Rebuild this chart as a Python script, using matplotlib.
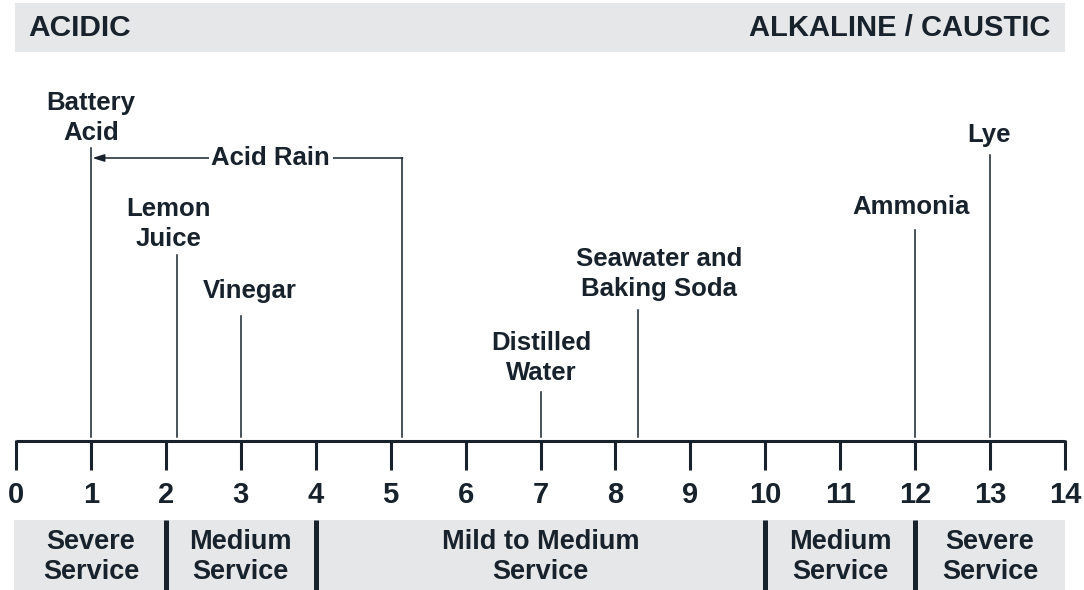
import matplotlib
matplotlib.use("Agg")
import matplotlib.pyplot as plt

# pH scale data
ph_ticks = list(range(0, 15))
substances = ["Battery\nAcid", "Lemon\nJuice", "Vinegar", "Distilled\nWater",
              "Seawater and\nBaking Soda", "Ammonia", "Lye"]
substance_ph = [1, 2.15, 3, 7, 8.3, 12, 13]
acid_rain_range = [1, 5.15]

# service bands
band_edges = [0, 2, 4, 10, 12, 14]
band_labels = ["Severe\nService", "Medium\nService", "Mild to Medium\nService",
               "Medium\nService", "Severe\nService"]

# layout (pixel rows, figure is drawn in pixel y coordinates)
line_tops = [148, 255, 316, 392, 310, 230, 155]
label_y = [118, 224, 291, 358, 274, 207, 135]
label_dx = [0, -0.11, 0.12, 0.01, 0.28, -0.05, -0.01]

INK = "#17222c"
GRAY = "#e6e7e8"
FONT = "Liberation Sans"

fig = plt.figure(figsize=(10.84, 5.90), dpi=100)
ax = fig.add_axes([0, 0, 1, 1])
px = 74.93
ax.set_xlim(-16 / px, (1084 - 16) / px)
ax.set_ylim(590, 0)
ax.axis("off")

# header band
ax.fill_between([-1 / px, 14], 3, 52, color=GRAY, lw=0)
ax.text(12 / px, 28, "ACIDIC", ha="left", va="center", fontsize=21.5,
        fontweight="bold", color=INK, family=FONT)
ax.text(14 - 15 / px, 28, "ALKALINE / CAUSTIC", ha="right", va="center",
        fontsize=21, fontweight="bold", color=INK, family=FONT)

# axis line and ticks
ax.plot([0, 14], [441, 441], color=INK, lw=2.2, solid_capstyle="butt")
for t in ph_ticks:
    ax.plot([t, t], [440, 470], color=INK, lw=2.2, solid_capstyle="butt")
    ax.text(t, 495, str(t), ha="center", va="center", fontsize=21,
            fontweight="bold", color=INK, family=FONT)

# substances
for name, ph, top, ly, dx in zip(substances, substance_ph, line_tops, label_y, label_dx):
    ax.plot([ph, ph], [top, 437], color=INK, lw=1.1)
    ax.text(ph + dx, ly, name, ha="center", va="center", fontsize=18.5,
            fontweight="bold", color=INK, family=FONT, linespacing=1.32)

# acid rain bracket
lo, hi = acid_rain_range
ax.plot([hi, hi], [158, 437], color=INK, lw=1.1)
ax.annotate("", xy=(lo + 0.02, 158), xytext=(hi + 0.01, 158),
            arrowprops=dict(arrowstyle="-|>,head_length=0.7,head_width=0.22",
                            color=INK, lw=1.1, shrinkA=0, shrinkB=0))
ax.text(3.4, 158, "Acid Rain", ha="center", va="center", fontsize=18.5,
        fontweight="bold", color=INK, family=FONT,
        bbox=dict(facecolor="white", edgecolor="none", pad=2))

# service band
ax.fill_between([-2 / px, 14], 520, 590, color=GRAY, lw=0)
for a, b, lab in zip(band_edges[:-1], band_edges[1:], band_labels):
    ax.text((a + b) / 2, 557, lab, ha="center", va="center", fontsize=19.5,
            fontweight="bold", color=INK, family=FONT, linespacing=1.24)
for e in band_edges[1:-1]:
    ax.plot([e, e], [520, 590], color=INK, lw=3.6, solid_capstyle="butt")

fig.savefig("out.png", dpi=100)
